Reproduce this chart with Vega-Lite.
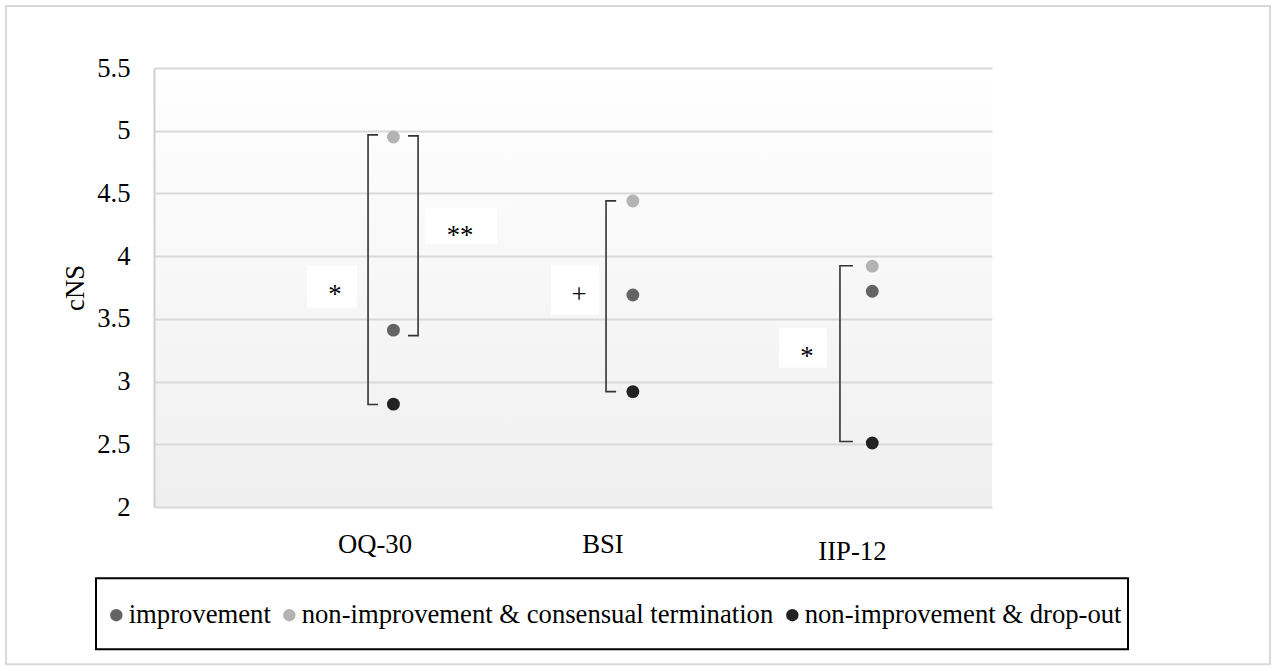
{
  "$schema": "https://vega.github.io/schema/vega-lite/v6.json",
  "autosize": {"type": "none"},
  "width": 838,
  "height": 439,
  "padding": {"left": 154, "top": 68, "right": 283, "bottom": 164},
  "background": "white",
  "config": {
    "font": "Liberation Serif, Times New Roman, serif",
    "view": {
      "stroke": null,
      "fill": {"gradient": "linear", "x1": 0, "y1": 0, "x2": 0, "y2": 1, "stops": [{"offset": 0, "color": "#ffffff"}, {"offset": 1, "color": "#efefef"}]}
    }
  },
  "datasets": {
    "points": [
      {"measure": "OQ-30", "pos": 1, "group": "improvement", "cNS": 3.41},
      {"measure": "OQ-30", "pos": 1, "group": "non-improvement & consensual termination", "cNS": 4.95},
      {"measure": "OQ-30", "pos": 1, "group": "non-improvement & drop-out", "cNS": 2.82},
      {"measure": "BSI", "pos": 2, "group": "improvement", "cNS": 3.69},
      {"measure": "BSI", "pos": 2, "group": "non-improvement & consensual termination", "cNS": 4.44},
      {"measure": "BSI", "pos": 2, "group": "non-improvement & drop-out", "cNS": 2.92},
      {"measure": "IIP-12", "pos": 3, "group": "improvement", "cNS": 3.72},
      {"measure": "IIP-12", "pos": 3, "group": "non-improvement & consensual termination", "cNS": 3.92},
      {"measure": "IIP-12", "pos": 3, "group": "non-improvement & drop-out", "cNS": 2.51}
    ],
    "labels": [
      {"label": "OQ-30", "x": 0.923, "y": 1.70},
      {"label": "BSI", "x": 1.875, "y": 1.694},
      {"label": "IIP-12", "x": 2.917, "y": 1.645}
    ],
    "brackets": [
      {"b": "oq_left", "o": 1, "x": 0.936, "y": 4.967},
      {"b": "oq_left", "o": 2, "x": 0.894, "y": 4.967},
      {"b": "oq_left", "o": 3, "x": 0.894, "y": 2.817},
      {"b": "oq_left", "o": 4, "x": 0.936, "y": 2.817},
      {"b": "oq_right", "o": 1, "x": 1.061, "y": 4.959},
      {"b": "oq_right", "o": 2, "x": 1.103, "y": 4.959},
      {"b": "oq_right", "o": 3, "x": 1.103, "y": 3.366},
      {"b": "oq_right", "o": 4, "x": 1.061, "y": 3.366},
      {"b": "bsi", "o": 1, "x": 1.930, "y": 4.441},
      {"b": "bsi", "o": 2, "x": 1.888, "y": 4.441},
      {"b": "bsi", "o": 3, "x": 1.888, "y": 2.920},
      {"b": "bsi", "o": 4, "x": 1.930, "y": 2.920},
      {"b": "iip", "o": 1, "x": 2.919, "y": 3.924},
      {"b": "iip", "o": 2, "x": 2.865, "y": 3.924},
      {"b": "iip", "o": 3, "x": 2.865, "y": 2.522},
      {"b": "iip", "o": 4, "x": 2.919, "y": 2.522}
    ],
    "sig": [
      {"text": "*", "bx1": 0.639, "bx2": 0.848, "by1": 3.924, "by2": 3.589, "tx": 0.756, "ty": 3.629},
      {"text": "**", "bx1": 1.132, "bx2": 1.433, "by1": 4.385, "by2": 4.099, "tx": 1.278, "ty": 4.099},
      {"text": "+", "bx1": 1.658, "bx2": 1.859, "by1": 3.932, "by2": 3.533, "tx": 1.775, "ty": 3.629},
      {"text": "*", "bx1": 2.610, "bx2": 2.811, "by1": 3.430, "by2": 3.111, "tx": 2.727, "ty": 3.135}
    ]
  },
  "layer": [
    {
      "data": {"name": "points"},
      "mark": {"type": "point", "filled": true, "opacity": 1, "size": 165, "shape": "circle"},
      "encoding": {
        "x": {"field": "pos", "type": "quantitative", "scale": {"domain": [0, 3.5], "nice": false, "zero": false}, "axis": null},
        "y": {"field": "cNS", "type": "quantitative", "scale": {"domain": [2, 5.5], "nice": false, "zero": false},
          "axis": {"title": "cNS", "values": [2, 2.5, 3, 3.5, 4, 4.5, 5, 5.5], "format": "~g", "ticks": false, "tickSize": 0,
            "labelPadding": 24, "labelFont": "Liberation Serif, Times New Roman, serif", "labelFontSize": 26.67, "labelColor": "#000000",
            "domain": true, "domainColor": "#d0d0d0", "domainWidth": 2,
            "grid": true, "gridColor": "#d9d9d9", "gridWidth": 2,
            "titleFont": "Liberation Serif, Times New Roman, serif", "titleFontSize": 26.67, "titleFontWeight": "normal", "titleColor": "#000000",
            "titleAngle": -90, "titleX": -79, "titleY": 219.5, "titleAlign": "center", "titleBaseline": "middle"}},
        "color": {"field": "group", "type": "nominal",
          "scale": {"domain": ["improvement", "non-improvement & consensual termination", "non-improvement & drop-out"], "range": ["#646464", "#b3b3b3", "#222222"]},
          "legend": {"title": null, "orient": "none", "legendX": -51, "legendY": 533.4, "direction": "horizontal",
            "symbolType": "circle", "symbolSize": 154, "symbolStrokeWidth": 0, "labelFont": "Liberation Serif, Times New Roman, serif", "labelFontSize": 26.67,
            "labelColor": "#000000", "labelOffset": -1, "columnPadding": 5, "padding": 0, "labelLimit": 0}}
      }
    },
    {
      "data": {"name": "brackets"},
      "mark": {"type": "line", "color": "#333333", "strokeWidth": 1.6, "interpolate": "linear"},
      "encoding": {
        "x": {"field": "x", "type": "quantitative"},
        "y": {"field": "y", "type": "quantitative"},
        "detail": {"field": "b"},
        "order": {"field": "o"}
      }
    },
    {
      "data": {"name": "sig"},
      "mark": {"type": "rect", "fill": "#ffffff", "stroke": null},
      "encoding": {
        "x": {"field": "bx1", "type": "quantitative"},
        "x2": {"field": "bx2"},
        "y": {"field": "by1", "type": "quantitative"},
        "y2": {"field": "by2"}
      }
    },
    {
      "data": {"name": "sig"},
      "mark": {"type": "text", "font": "Liberation Serif, Times New Roman, serif", "fontSize": 26.67, "color": "#000000", "baseline": "alphabetic", "align": "center"},
      "encoding": {
        "x": {"field": "tx", "type": "quantitative"},
        "y": {"field": "ty", "type": "quantitative"},
        "text": {"field": "text"}
      }
    },
    {
      "data": {"name": "labels"},
      "mark": {"type": "text", "font": "Liberation Serif, Times New Roman, serif", "fontSize": 26.67, "color": "#000000", "baseline": "middle", "align": "center"},
      "encoding": {
        "x": {"field": "x", "type": "quantitative"},
        "y": {"field": "y", "type": "quantitative"},
        "text": {"field": "label"}
      }
    },
    {
      "data": {"values": [{}]},
      "mark": {"type": "rect", "fill": null, "stroke": "#000000", "strokeWidth": 2},
      "encoding": {
        "x": {"datum": -0.2422, "type": "quantitative"},
        "x2": {"datum": 4.068},
        "y": {"datum": 1.432, "type": "quantitative"},
        "y2": {"datum": 0.866}
      }
    },
    {
      "data": {"values": [{}]},
      "mark": {"type": "rect", "fill": null, "stroke": "#d9d9d9", "strokeWidth": 2},
      "encoding": {
        "x": {"datum": -0.618, "type": "quantitative"},
        "x2": {"datum": 4.661},
        "y": {"datum": 5.994, "type": "quantitative"},
        "y2": {"datum": 0.747}
      }
    }
  ]
}
